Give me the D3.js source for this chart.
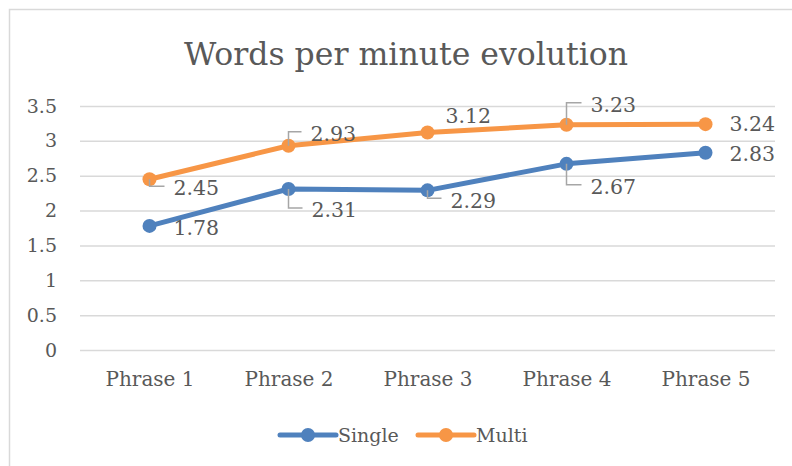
<!DOCTYPE html>
<html>
<head>
<meta charset="utf-8">
<script src="https://cdn.jsdelivr.net/npm/d3@7"></script>
<style>
  body { margin: 0; background: #fff; }
  svg text { font-family: 'DejaVu Serif', 'Liberation Serif', serif; fill: #595959; }
</style>
</head>
<body>
<div id="chart"></div>
<script>
const categories = ['Phrase 1', 'Phrase 2', 'Phrase 3', 'Phrase 4', 'Phrase 5'];
const singleValues = [1.78, 2.31, 2.29, 2.67, 2.83];
const multiValues = [2.45, 2.93, 3.12, 3.23, 3.24];
const yTicks = [0, 0.5, 1, 1.5, 2, 2.5, 3, 3.5];

// where each value label sits relative to its point (Excel-style manual placement)
const singleLabelPos = [
  { dx: 24, dy: 2, leader: false },
  { dx: 23, dy: 21, leader: true },
  { dx: 23, dy: 10, leader: true },
  { dx: 24, dy: 23, leader: true },
  { dx: 24, dy: 1, leader: false }
];
const multiLabelPos = [
  { dx: 24, dy: 9, leader: true },
  { dx: 22, dy: -12, leader: true },
  { dx: 18, dy: -17, leader: false },
  { dx: 24, dy: -20, leader: true },
  { dx: 24, dy: 0, leader: false }
];

const width = 792;
const height = 466;
const plotLeft = 80;
const plotRight = 775;
const plotTop = 106;
const plotBottom = 350;

const series = [
  { name: 'Single', values: singleValues, color: '#4F81BD', labels: singleLabelPos },
  { name: 'Multi', values: multiValues, color: '#F79646', labels: multiLabelPos }
];

const svg = d3
  .select('#chart')
  .append('svg')
  .attr('width', width)
  .attr('height', height);

// chart border (cut off at right and bottom)
svg
  .append('rect')
  .attr('x', 9.5)
  .attr('y', 9.5)
  .attr('width', width + 20)
  .attr('height', height + 20)
  .style('fill', 'none')
  .style('stroke', '#D9D9D9')
  .style('stroke-width', 1.5);

const x = d3.scalePoint().domain(categories).range([plotLeft, plotRight]).padding(0.5);
const y = d3.scaleLinear().domain([0, 3.5]).range([plotBottom, plotTop]);

// Title
svg
  .append('text')
  .attr('x', 406)
  .attr('y', 65)
  .attr('text-anchor', 'middle')
  .style('font-size', '31.5px')
  .text('Words per minute evolution');

// Gridlines + y labels
const yAxis = d3
  .axisLeft(y)
  .tickValues(yTicks)
  .tickSize(-(plotRight - plotLeft))
  .tickPadding(23)
  .tickFormat(d3.format('~g'));

const gy = svg.append('g').attr('transform', `translate(${plotLeft},0)`).call(yAxis);
gy.select('.domain').remove();
gy.selectAll('line').style('stroke', '#D9D9D9').style('stroke-width', 1.5);
gy.selectAll('text')
  .style('font-size', '19px')
  .style('fill', '#595959')
  .style('font-family', "'DejaVu Serif', serif");

// x labels
const xAxis = d3.axisBottom(x).tickSize(0).tickPadding(22);
const gx = svg.append('g').attr('transform', `translate(0,${plotBottom})`).call(xAxis);
gx.select('.domain').remove();
gx.selectAll('text')
  .style('font-size', '20px')
  .style('fill', '#595959')
  .style('font-family', "'DejaVu Serif', serif");

const line = d3
  .line()
  .x((d, i) => x(categories[i]))
  .y((d) => y(d));

series.forEach(function (s) {
  const g = svg.append('g').attr('class', 'series');

  g.append('path')
    .datum(s.values)
    .attr('d', line)
    .style('fill', 'none')
    .style('stroke', s.color)
    .style('stroke-width', 5)
    .style('stroke-linejoin', 'round');

  g.selectAll('circle')
    .data(s.values)
    .enter()
    .append('circle')
    .attr('cx', (d, i) => x(categories[i]))
    .attr('cy', (d) => y(d))
    .attr('r', 7)
    .style('fill', s.color);

  // leader lines
  g.selectAll('.leader')
    .data(s.values)
    .enter()
    .filter((d, i) => s.labels[i].leader)
    .append('path')
    .attr('class', 'leader')
    .attr('d', function (d) {
      const i = s.values.indexOf(d);
      const p = s.labels[i];
      const px = x(categories[i]);
      const py = y(d);
      const ly = py + p.dy - 2;
      return `M${px},${py} V${ly} H${px + p.dx - 9}`;
    })
    .style('fill', 'none')
    .style('stroke', '#A6A6A6')
    .style('stroke-width', 1.5);

  g.selectAll('.label')
    .data(s.values)
    .enter()
    .append('text')
    .attr('class', 'label')
    .attr('x', (d, i) => x(categories[i]) + s.labels[i].dx)
    .attr('y', (d, i) => y(d) + s.labels[i].dy)
    .attr('dy', '0.35em')
    .style('font-size', '20.5px')
    .text((d) => d.toFixed(2));
});

// Legend
const legend = svg.append('g').attr('transform', 'translate(280,435)');
const legendItems = legend
  .selectAll('g')
  .data(series)
  .enter()
  .append('g')
  .attr('transform', (d, i) => `translate(${i * 138},0)`);

legendItems
  .append('line')
  .attr('x1', 0)
  .attr('x2', 56)
  .style('stroke', (d) => d.color)
  .style('stroke-width', 5)
  .style('stroke-linecap', 'round');

legendItems
  .append('circle')
  .attr('cx', 28)
  .attr('r', 7)
  .style('fill', (d) => d.color);

legendItems
  .append('text')
  .attr('x', 58)
  .attr('dy', '0.35em')
  .style('font-size', '19px')
  .text((d) => d.name);
</script>
</body>
</html>
